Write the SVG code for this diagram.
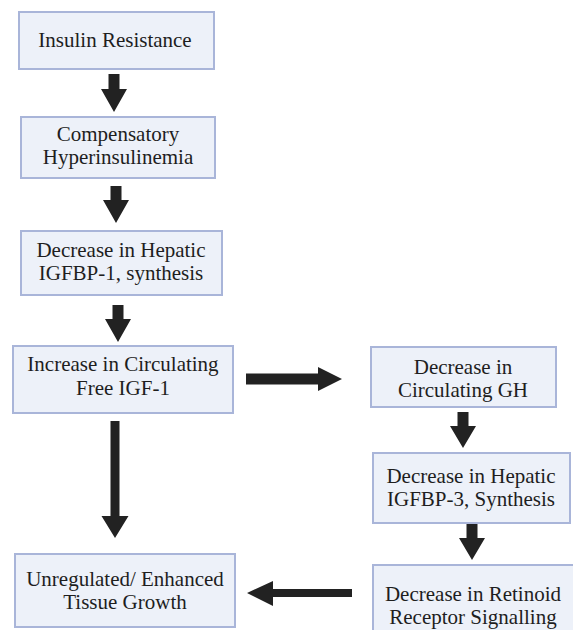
<svg xmlns="http://www.w3.org/2000/svg" width="573" height="630" viewBox="0 0 573 630">
<style>
.box{fill:#edf1f9;stroke:#a9b5d9;stroke-width:2}
.t{font-size:21px;fill:#1e1e1e;text-anchor:middle}
.arr{fill:#222}
</style>
<rect width="573" height="630" fill="#fff"/>
<g font-family="Liberation Serif, Times New Roman, Tinos, Noto Serif, DejaVu Serif, serif">
<g id="n1"><rect class="box" x="19" y="12" width="195" height="57"/><text class="t" x="115" y="47">Insulin Resistance</text></g>
<g id="n2"><rect class="box" x="21" y="117" width="194" height="61"/><text class="t" x="118" y="141">Compensatory</text><text class="t" x="118" y="164">Hyperinsulinemia</text></g>
<g id="n3"><rect class="box" x="21" y="231" width="201" height="64"/><text class="t" x="121" y="257">Decrease in Hepatic</text><text class="t" x="121" y="280">IGFBP-1, synthesis</text></g>
<g id="n4"><rect class="box" x="13" y="346" width="220" height="67"/><text class="t" x="123" y="371">Increase in Circulating</text><text class="t" x="123" y="395">Free IGF-1</text></g>
<g id="n5"><rect class="box" x="371" y="347" width="185" height="60"/><text class="t" x="463" y="374">Decrease in</text><text class="t" x="463" y="397">Circulating GH</text></g>
<g id="n6"><rect class="box" x="373" y="453" width="197" height="70"/><text class="t" x="471" y="483">Decrease in Hepatic</text><text class="t" x="471" y="506">IGFBP-3, Synthesis</text></g>
<g id="n7"><rect class="box" x="373" y="565" width="205" height="70"/><text class="t" x="473" y="601">Decrease in Retinoid</text><text class="t" x="473" y="624">Receptor Signalling</text></g>
<g id="n8"><rect class="box" x="15" y="554" width="220" height="73"/><text class="t" x="125" y="586">Unregulated/ Enhanced</text><text class="t" x="125" y="609">Tissue Growth</text></g>
</g>
<g id="connectors" class="arr">
<polygon points="108.5,74 119.5,74 119.5,89 127,89 114,112 101,89 108.5,89"/>
<polygon points="110.5,186 121.5,186 121.5,200 129,200 116,223 103,200 110.5,200"/>
<polygon points="112.5,305 123.5,305 123.5,319 131,319 118,342 105,319 112.5,319"/>
<polygon points="110.5,421 119.5,421 119.5,516 128.5,516 115,538 101.5,516 110.5,516"/>
<polygon points="246,373.5 318,373.5 318,367 342,379 318,391 318,384.5 246,384.5"/>
<polygon points="457.5,412 468.5,412 468.5,426 476,426 463,448 450,426 457.5,426"/>
<polygon points="466.5,524 477.5,524 477.5,538 485,538 472,560 459,538 466.5,538"/>
<polygon points="352,589 273,589 273,581 247,593 273,606 273,597 352,597"/>
</g>
</svg>
